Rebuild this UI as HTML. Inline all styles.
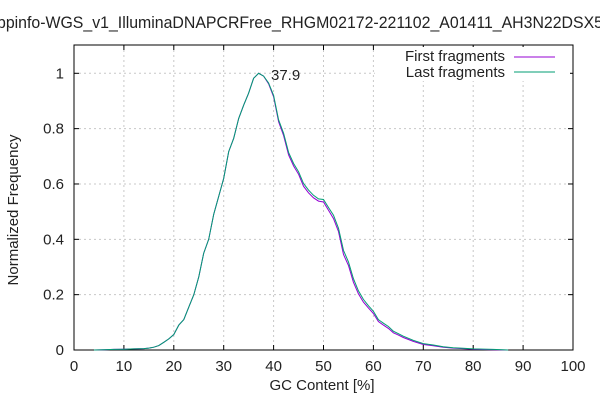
<!DOCTYPE html>
<html><head><meta charset="utf-8"><style>
html,body{margin:0;padding:0;background:#fff}
svg{display:block;font-family:"Liberation Sans",sans-serif}
</style></head><body>
<svg id="chart" width="600" height="400">
<text x="-3" y="28" font-size="17" fill="#222" textLength="606" lengthAdjust="spacingAndGlyphs">bpinfo-WGS_v1_IlluminaDNAPCRFree_RHGM02172-221102_A01411_AH3N22DSX5</text>
<g id="grid"></g>
<g id="axes"></g>
<g id="series"></g>
<text x="271" y="80" font-size="15" fill="#222">37.9</text>
<text x="322" y="390" font-size="15" text-anchor="middle" fill="#222">GC Content [%]</text>
<text transform="translate(18,210) rotate(-90)" font-size="15" text-anchor="middle" fill="#222">Normalized Frequency</text>
<g>
<rect x="375" y="47" width="195" height="34" fill="#fff"/>
<text x="505" y="61" font-size="15" text-anchor="end" fill="#222">First fragments</text>
<line x1="514" y1="57" x2="555" y2="57" stroke="#9400d3"/>
<text x="505" y="77" font-size="15" text-anchor="end" fill="#222">Last fragments</text>
<line x1="514" y1="72" x2="555" y2="72" stroke="#009e73"/>
</g>
</svg>
<script>
const gcValues=[4,6,8,10,12,14,15,16,17,18,19,20,21,22,23,24,25,26,27,28,29,30,31,32,33,34,35,36,37,38,39,40,41,42,43,44,45,46,47,48,49,50,51,52,53,54,55,56,57,58,59,60,61,62,63,64,65,66,68,70,72,74,76,78,80,84,87];
const firstFrag=[0,0.001,0.002,0.003,0.004,0.005,0.007,0.01,0.016,0.028,0.04,0.056,0.09,0.11,0.155,0.2,0.265,0.35,0.4,0.49,0.555,0.62,0.717,0.765,0.837,0.885,0.928,0.982,1.0,0.99,0.962,0.915,0.825,0.775,0.705,0.665,0.635,0.592,0.568,0.55,0.538,0.535,0.505,0.475,0.428,0.345,0.305,0.245,0.203,0.173,0.152,0.132,0.103,0.09,0.078,0.062,0.054,0.045,0.031,0.02,0.015,0.01,0.007,0.005,0.003,0.001,0];
const lastFrag=[0,0.001,0.002,0.003,0.004,0.005,0.007,0.01,0.016,0.028,0.04,0.056,0.09,0.11,0.155,0.2,0.265,0.35,0.4,0.49,0.555,0.62,0.717,0.765,0.837,0.885,0.928,0.982,1.0,0.99,0.965,0.92,0.832,0.783,0.714,0.674,0.644,0.602,0.578,0.559,0.546,0.544,0.515,0.487,0.44,0.36,0.318,0.258,0.214,0.183,0.16,0.14,0.11,0.097,0.085,0.068,0.059,0.05,0.035,0.023,0.018,0.012,0.008,0.006,0.004,0.002,0];
const xTicks=[0,10,20,30,40,50,60,70,80,90,100];
const yTicks=[0,0.2,0.4,0.6,0.8,1];
const yTickLabels=["0","0.2","0.4","0.6","0.8","1"];
const L=74,R=573,T=45,B=350,Y1=73.3;
const sx=v=>L+(v/100)*(R-L);
const sy=v=>B-v*(B-Y1);
const NS="http://www.w3.org/2000/svg";
function mk(tag,attrs,parent){const e=document.createElementNS(NS,tag);for(const k in attrs)e.setAttribute(k,attrs[k]);parent.appendChild(e);return e;}
const grid=document.getElementById('grid'),axes=document.getElementById('axes'),series=document.getElementById('series');
xTicks.forEach((t,i)=>{
  const x=sx(t);
  if(t>0&&t<100){const g=mk('line',{x1:x,y1:T,x2:x,y2:B,stroke:'#c8c8c8','stroke-dasharray':'2,3'},grid);
  
  }
  const tk=mk('line',{x1:x,y1:B,x2:x,y2:B-5,stroke:'#000'},axes);
  
  
  const tkt=mk('line',{x1:x,y1:T,x2:x,y2:T+5,stroke:'#000'},axes);
  
  
  const lb=mk('text',{x:x,y:371,'font-size':15,'text-anchor':'middle',fill:'#222'},axes);
  lb.textContent=t;
  
  
});
yTicks.forEach((t,i)=>{
  const y=sy(t);
  if(t>0){const g=mk('line',{x1:L,y1:y,x2:R,y2:y,stroke:'#c8c8c8','stroke-dasharray':'2,3'},grid);
  
  }
  const tk=mk('line',{x1:L,y1:y,x2:L+5,y2:y,stroke:'#000'},axes);
  
  
  const tk2=mk('line',{x1:R,y1:y,x2:R-5,y2:y,stroke:'#000'},axes);
  
  
  const lb=mk('text',{x:64,y:y+5,'font-size':15,'text-anchor':'end',fill:'#222'},axes);
  lb.textContent=yTickLabels[i];
  
  
});
const frame=mk('rect',{x:L,y:T,width:R-L,height:B-T,fill:'none',stroke:'#000'},axes);


function line(vals,color,name){
  const d=vals.map((v,i)=>(i?'L':'M')+sx(gcValues[i]).toFixed(1)+','+sy(v).toFixed(1)).join('');
  const p=mk('path',{d:d,fill:'none',stroke:color,'stroke-width':1},series);
  
  
}
line(firstFrag,'#9400d3','first-fragments-line');
line(lastFrag,'#009e73','last-fragments-line');
</script>
</body></html>
